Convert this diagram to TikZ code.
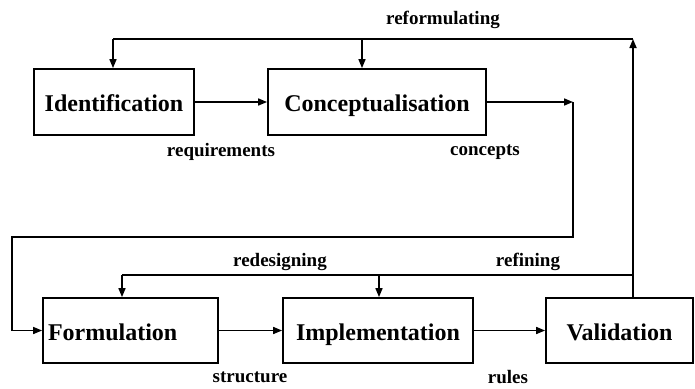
\documentclass[tikz,border=0pt]{standalone}
\usepackage{fontspec}
\setmainfont{Liberation Serif}
\usetikzlibrary{arrows.meta}
\begin{document}
\begin{tikzpicture}[x=1pt,y=-1pt,
  box/.style={draw, line width=1.8pt, rectangle, inner sep=0pt, text height=19pt, text depth=0pt, font=\fontsize{24}{28}\selectfont\bfseries},
  lab/.style={font=\fontsize{19}{22}\selectfont\bfseries, inner sep=0pt},
  ln/.style={line width=1.6pt},
  arr/.style={ln, -{Triangle[length=9pt,width=7pt]}}]
\useasboundingbox (0,0) rectangle (695,388);
% boxes
\node[box, minimum width=160pt, minimum height=66pt] (ident) at (114,102) {Identification};
\node[box, minimum width=218pt, minimum height=66pt] (concept) at (377,102) {Conceptualisation};
\node[box, minimum width=175pt, minimum height=65pt, text width=165pt, align=left, inner xsep=5pt] (form) at (130.5,330.5) {Formulation};
\node[box, minimum width=190pt, minimum height=65pt] (impl) at (378,330.5) {Implementation};
\node[box, minimum width=147pt, minimum height=65pt] (valid) at (619.5,330.5) {Validation};
% labels
\node[lab] (lreform) at (443,20) {reformulating};
\node[lab] (lreq) at (221,152) {requirements};
\node[lab] (lconc) at (485,152) {concepts};
\node[lab] (lredes) at (280,262) {redesigning};
\node[lab] (lref) at (528,262) {refining};
\node[lab] (lstruct) at (250,377) {structure};
\node[lab] (lrules) at (508,377) {rules};
% coordinates
\coordinate (c1) at (573,102);
\coordinate (c2) at (573,237);
\coordinate (c3) at (12,237);
\coordinate (r1) at (633,39);
\coordinate (r2) at (113,39);
\coordinate (r3) at (362,39);
\coordinate (f1) at (633,275);
\coordinate (f2) at (122,275);
\coordinate (f3) at (379,275);
% forward flow
\draw[arr] (ident.east) -- (concept.west);
\draw[arr] (concept.east) -- (c1);
\draw[ln] (c1) -- (c2) -- (c3) -- (c3 |- form.west);
\draw[arr] (c3 |- form.west) -- (form.west);
\draw[arr] (form.east) -- (impl.west);
\draw[arr] (impl.east) -- (valid.west);
% reformulating loop
\draw[arr] (r1 |- valid.north) -- (r1);
\draw[ln] (r1) -- (r2);
\draw[arr] (r2) -- (r2 |- ident.north);
\draw[arr] (r3) -- (r3 |- concept.north);
% refining / redesigning loop
\draw[ln] (f1) -- (f2);
\draw[arr] (f2) -- (f2 |- form.north);
\draw[arr] (f3) -- (f3 |- impl.north);
\end{tikzpicture}
\end{document}
